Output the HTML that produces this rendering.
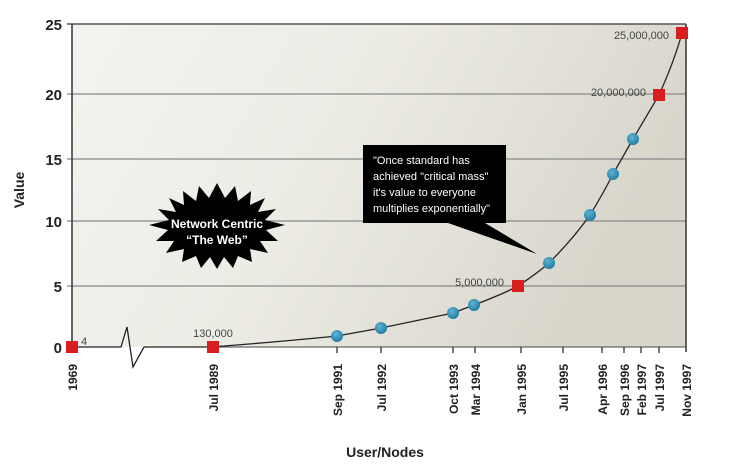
<!DOCTYPE html>
<html><head><meta charset="utf-8"><style>
body{margin:0;background:#fff;width:729px;height:472px;overflow:hidden}
svg{display:block;font-family:"Liberation Sans",Arial,sans-serif}
</style></head><body>
<svg width="729" height="472" viewBox="0 0 729 472">
<defs>
<linearGradient id="bg" x1="0" y1="0" x2="1" y2="0.3">
<stop offset="0" stop-color="#f4f3ef"/><stop offset="0.5" stop-color="#ecebe4"/><stop offset="1" stop-color="#d8d6cb"/>
</linearGradient>
<radialGradient id="ball" cx="0.4" cy="0.35" r="0.7">
<stop offset="0" stop-color="#5fb3d2"/><stop offset="1" stop-color="#1f7aa0"/>
</radialGradient>
</defs>
<rect x="72" y="24" width="614" height="323" fill="url(#bg)"/>
<g stroke="#888" stroke-width="1.2">
<line x1="67" y1="94" x2="686" y2="94"/><line x1="67" y1="159" x2="686" y2="159"/>
<line x1="67" y1="221" x2="686" y2="221"/><line x1="67" y1="286" x2="686" y2="286"/>
</g>
<line x1="67" y1="24" x2="686" y2="24" stroke="#555" stroke-width="1.5"/>
<line x1="72" y1="24" x2="72" y2="348" stroke="#333" stroke-width="1.5"/>
<line x1="686" y1="24" x2="686" y2="352" stroke="#333" stroke-width="1.5"/>
<line x1="213" y1="347" x2="686" y2="347" stroke="#666" stroke-width="1.2"/>
<line x1="67" y1="347" x2="72" y2="347" stroke="#333"/>
<g font-size="15" font-weight="bold" fill="#222" text-anchor="end">
<text x="62" y="30">25</text><text x="62" y="100">20</text><text x="62" y="165">15</text><text x="62" y="227">10</text><text x="62" y="292">5</text><text x="62" y="353">0</text>
</g>
<text transform="translate(24,190) rotate(-90)" font-size="14" font-weight="bold" fill="#222" text-anchor="middle">Value</text>
<text x="385" y="457" font-size="14" font-weight="bold" fill="#222" text-anchor="middle">User/Nodes</text>
<g stroke="#333" stroke-width="1.3">
<line x1="337" y1="347" x2="337" y2="353"/><line x1="381" y1="347" x2="381" y2="353"/><line x1="453" y1="347" x2="453" y2="353"/><line x1="475" y1="347" x2="475" y2="353"/><line x1="521" y1="347" x2="521" y2="353"/><line x1="563" y1="347" x2="563" y2="353"/><line x1="602" y1="347" x2="602" y2="353"/><line x1="624" y1="347" x2="624" y2="353"/><line x1="641" y1="347" x2="641" y2="353"/><line x1="659" y1="347" x2="659" y2="353"/>
</g>
<polyline fill="none" stroke="#222" stroke-width="1.3" points="72,347 121,347 127,327 133,367 144,347 213,347"/>
<path d="M213,347 C260,343 300,340 337,336 L381,328 L453,313 L474,305 C490,299 505,293 518,286 C530,278 540,271 549,263 C563,249 578,232 590,215 C598,202 606,188 613,174 L633,139 L659,95 C668,75 676,55 682,33" fill="none" stroke="#222" stroke-width="1.3"/>
<g fill="url(#ball)">
<circle cx="337" cy="336" r="6"/><circle cx="381" cy="328" r="6"/><circle cx="453" cy="313" r="6"/><circle cx="474" cy="305" r="6"/><circle cx="549" cy="263" r="6"/><circle cx="590" cy="215" r="6"/><circle cx="613" cy="174" r="6"/><circle cx="633" cy="139" r="6"/>
</g>
<g fill="#d81e1e">
<rect x="66" y="341" width="12" height="12"/><rect x="207" y="341" width="12" height="12"/><rect x="512" y="280" width="12" height="12"/><rect x="653" y="89" width="12" height="12"/><rect x="676" y="27" width="12" height="12"/>
</g>
<g font-size="11" fill="#444">
<text x="81" y="345">4</text>
<text x="213" y="337" text-anchor="middle">130,000</text>
<text x="504" y="286" text-anchor="end">5,000,000</text>
<text x="646" y="96" text-anchor="end">20,000,000</text>
<text x="669" y="39" text-anchor="end">25,000,000</text>
</g>
<g font-size="12" font-weight="bold" fill="#222">
<text transform="translate(77,364) rotate(-90)" text-anchor="end">1969</text>
<text transform="translate(218,364) rotate(-90)" text-anchor="end">Jul 1989</text>
<text transform="translate(342,364) rotate(-90)" text-anchor="end">Sep 1991</text>
<text transform="translate(386,364) rotate(-90)" text-anchor="end">Jul 1992</text>
<text transform="translate(458,364) rotate(-90)" text-anchor="end">Oct 1993</text>
<text transform="translate(480,364) rotate(-90)" text-anchor="end">Mar 1994</text>
<text transform="translate(526,364) rotate(-90)" text-anchor="end">Jan 1995</text>
<text transform="translate(568,364) rotate(-90)" text-anchor="end">Jul 1995</text>
<text transform="translate(607,364) rotate(-90)" text-anchor="end">Apr 1996</text>
<text transform="translate(629,364) rotate(-90)" text-anchor="end">Sep 1996</text>
<text transform="translate(646,364) rotate(-90)" text-anchor="end">Feb 1997</text>
<text transform="translate(664,364) rotate(-90)" text-anchor="end">Jul 1997</text>
<text transform="translate(691,364) rotate(-90)" text-anchor="end">Nov 1997</text>
</g>
<polygon fill="#000" points="217,183 225,198 235,186 238,201 251,191 250,205 265,198 258,212 276,209 265,220 285,225 266,230 278,241 260,241 268,253 250,249 252,262 238,256 233,268 224,257 217,269 210,257 201,268 196,256 182,262 184,249 166,253 174,241 156,241 168,230 149,225 169,220 158,209 176,212 169,198 184,205 183,191 196,201 199,186 209,198"/>
<text x="217" y="228" font-size="12" font-weight="bold" fill="#fff" text-anchor="middle">Network Centric</text>
<text x="217" y="244" font-size="12" font-weight="bold" fill="#fff" text-anchor="middle">“The Web”</text>
<polygon fill="#000" points="363,145 506,145 506,223 485,223 537,254 448,223 363,223"/>
<g font-size="11" fill="#fff">
<text x="373" y="164">"Once standard has</text>
<text x="373" y="180">achieved "critical mass"</text>
<text x="373" y="196">it's value to everyone</text>
<text x="373" y="212">multiplies exponentially"</text>
</g>
</svg>
</body></html>
